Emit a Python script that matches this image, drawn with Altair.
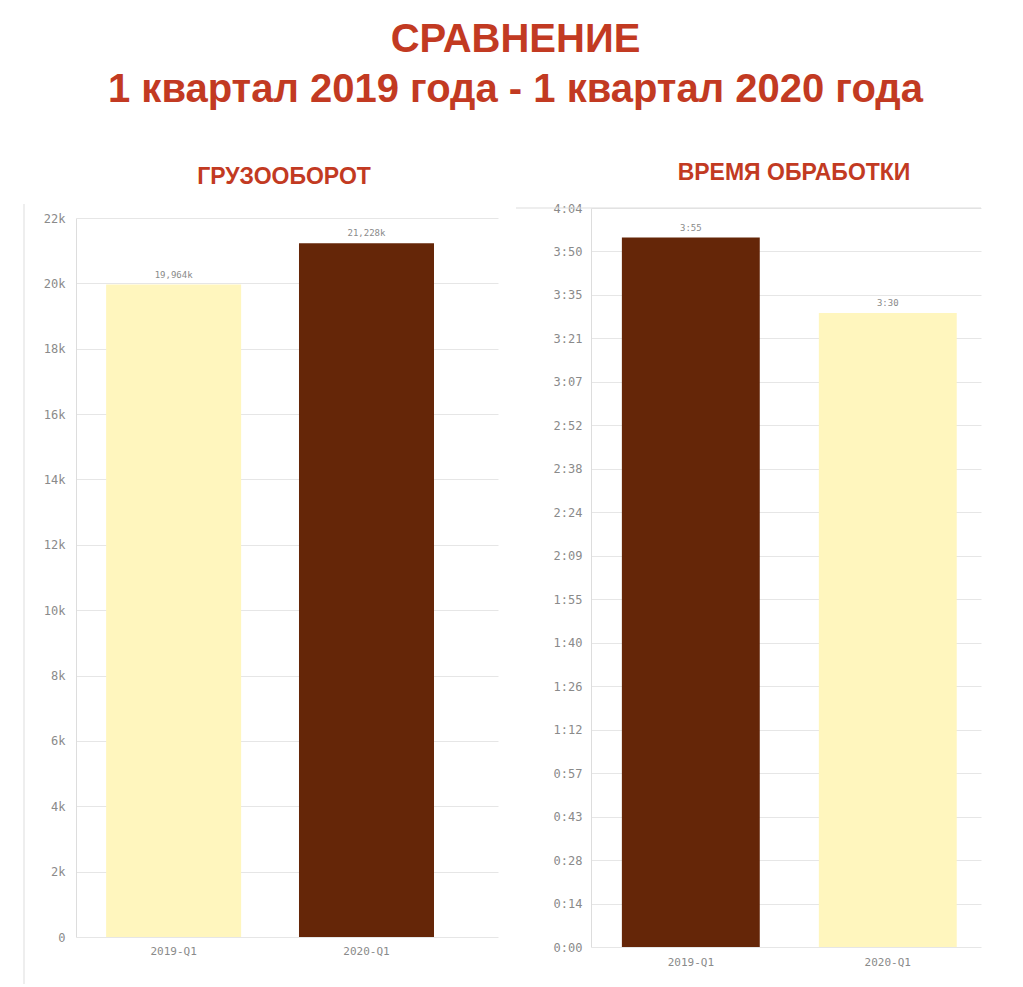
import altair as alt
import pandas as pd

# ---- data ----
CATEGORIES = ["2019-Q1", "2020-Q1"]
TURNOVER = [19964, 21228]
TURNOVER_COLORS = ["#FFF6BE", "#652608"]
PROC_MINUTES = [235, 210]          # 3:55 and 3:30
PROC_COLORS = ["#652608", "#FFF6BE"]
K_TICKS = [0, 2000, 4000, 6000, 8000, 10000, 12000, 14000, 16000, 18000, 20000, 22000]
TIME_TICKS = [0, 14.4, 28.8, 43.2, 57.6, 72, 86.4, 100.8, 115.2, 129.6, 144,
              158.4, 172.8, 187.2, 201.6, 216, 230.4, 244.8]
TIME_LABELS = ["0:00", "0:14", "0:28", "0:43", "0:57", "1:12", "1:26", "1:40", "1:55",
               "2:09", "2:24", "2:38", "2:52", "3:07", "3:21", "3:35", "3:50", "4:04"]

TITLE_LINES = ["СРАВНЕНИЕ", "1 квартал 2019 года - 1 квартал 2020 года"]
SUB_LEFT = "ГРУЗООБОРОТ"
SUB_RIGHT = "ВРЕМЯ ОБРАБОТКИ"

RED = "#C23A22"
GRID = "#E6E6E6"
LBL = "#8A8A8A"
MONO = "DejaVu Sans Mono"
SANS = "Liberation Sans"

# ---- left panel ----
df1 = pd.DataFrame({"q": CATEGORIES, "v": TURNOVER, "c": TURNOVER_COLORS})
W1, H1 = 422, 729
Y1_TOP = 10

x1 = alt.X("q:N", sort=CATEGORIES,
           scale=alt.Scale(paddingInner=0.3, paddingOuter=0.244, align=0.32),
           axis=alt.Axis(title=None, labelAngle=0, ticks=False, domain=False, grid=False,
                         labelColor=LBL, labelFont=MONO, labelFontSize=11, labelPadding=8))
y1 = alt.Y("v:Q", scale=alt.Scale(domain=[0, 22000], nice=False, range=[H1, Y1_TOP]),
           axis=alt.Axis(title=None, values=K_TICKS, ticks=False, domain=True,
                         domainColor="#DDDDDD", gridColor=GRID,
                         labelExpr="datum.value == 0 ? '0' : (datum.value / 1000) + 'k'",
                         labelColor=LBL, labelFont=MONO, labelFontSize=12, labelPadding=11))

bars1 = alt.Chart(df1).mark_bar().encode(x=x1, y=y1, color=alt.Color("c:N", scale=None))
text1 = alt.Chart(df1).transform_calculate(
    lbl="replace(format(datum.v / 1000, '.3f'), '.', ',') + 'k'"
).mark_text(baseline="bottom", dy=-5, fontSize=9, color=LBL, font=MONO).encode(
    x=alt.X("q:N", sort=CATEGORIES), y="v:Q", text="lbl:N")
frame1 = alt.Chart(pd.DataFrame({"a": [0]})).mark_rule(color="#DDDDDD").encode(
    x=alt.value(-52), y=alt.value(-4), y2=alt.value(H1 + 47))

left = alt.layer(frame1, bars1, text1).properties(
    width=W1, height=H1,
    title=alt.TitleParams(SUB_LEFT, font=SANS, fontSize=23, fontWeight="bold", color=RED,
                          anchor="middle", frame="group", dx=-3, offset=15))

# ---- right panel ----
df2 = pd.DataFrame({"q": CATEGORIES, "v": PROC_MINUTES, "c": PROC_COLORS})
W2, H2 = 390, 739
labels_js = "[" + ",".join("'" + s + "'" for s in TIME_LABELS) + "]"

x2 = alt.X("q:N", sort=CATEGORIES,
           scale=alt.Scale(paddingInner=0.3, paddingOuter=0.14, align=0.56),
           axis=alt.Axis(title=None, labelAngle=0, ticks=False, domain=False, grid=False,
                         labelColor=LBL, labelFont=MONO, labelFontSize=11, labelPadding=9))
y2 = alt.Y("v:Q", scale=alt.Scale(domain=[0, 244.8], nice=False),
           axis=alt.Axis(title=None, values=TIME_TICKS, ticks=False, domain=True,
                         domainColor="#DDDDDD", gridColor=GRID,
                         labelExpr=labels_js + "[round(datum.value / 14.4)]",
                         labelColor=LBL, labelFont=MONO, labelFontSize=12, labelPadding=9))

bars2 = alt.Chart(df2).mark_bar().encode(x=x2, y=y2, color=alt.Color("c:N", scale=None))
text2 = alt.Chart(df2).transform_calculate(
    lbl="floor(datum.v / 60) + ':' + (datum.v % 60 < 10 ? '0' : '') + (datum.v % 60)"
).mark_text(baseline="bottom", dy=-5, fontSize=9, color=LBL, font=MONO).encode(
    x=alt.X("q:N", sort=CATEGORIES), y="v:Q", text="lbl:N")
toprule = alt.Chart(pd.DataFrame({"a": [0]})).mark_rule(color="#DDDDDD").encode(
    x=alt.value(-75), x2=alt.value(W2), y=alt.value(0))

right = alt.layer(toprule, bars2, text2).properties(
    width=W2, height=H2,
    title=alt.TitleParams(SUB_RIGHT, font=SANS, fontSize=23, fontWeight="bold", color=RED,
                          anchor="middle", frame="group", dx=8, offset=17))

chart = alt.hconcat(left, right, spacing=17).resolve_scale(
    y="independent", x="independent", color="independent"
).properties(
    title=alt.TitleParams(TITLE_LINES, font=SANS, fontSize=40, fontWeight="bold", color=RED,
                          anchor="middle", lineHeight=50, dx=13, offset=52),
    padding={"left": 15, "top": 12, "right": 5, "bottom": 0},
    background="white"
).configure_view(stroke="transparent", strokeWidth=0)

chart.save("out.html", embed_options={"renderer": "svg", "actions": False})
